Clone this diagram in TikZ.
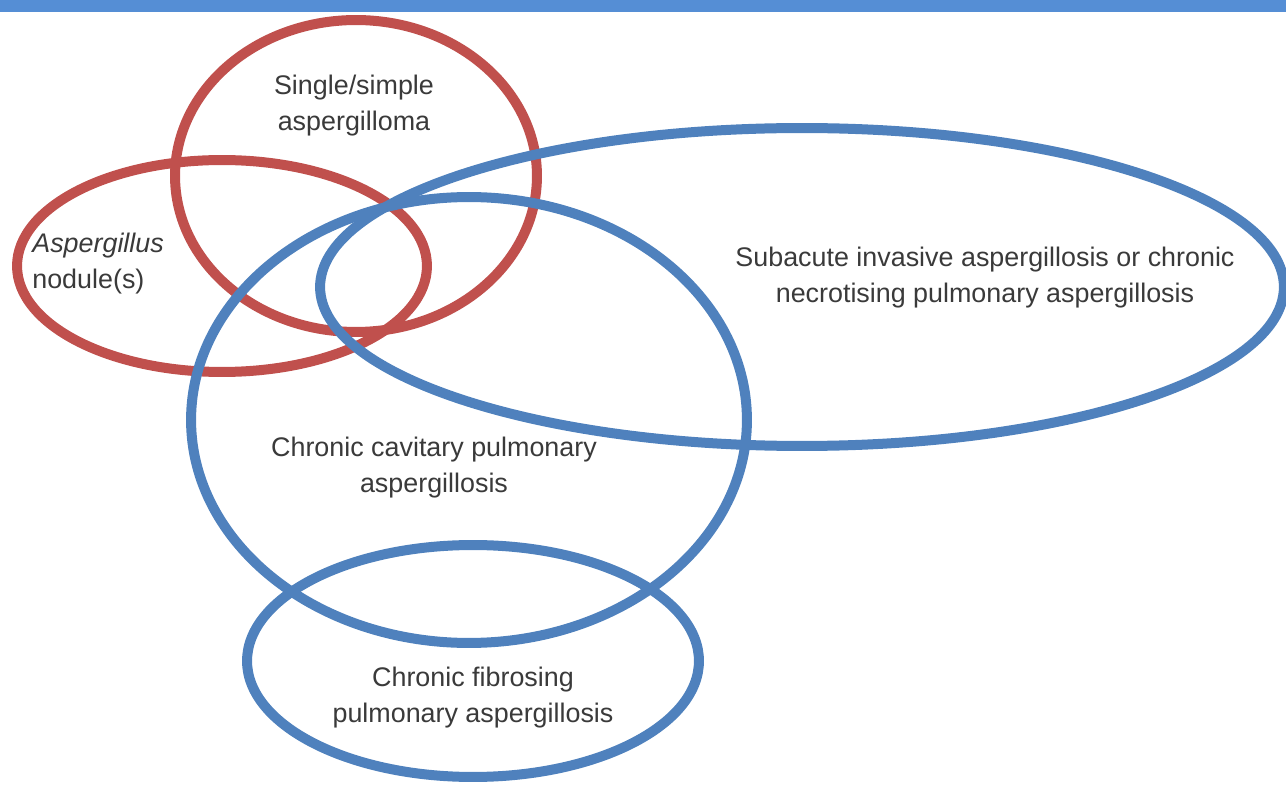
\documentclass[tikz,border=0pt]{standalone}
\usepackage{fontspec}
\setmainfont{Liberation Sans}
\usetikzlibrary{positioning}
\definecolor{venred}{HTML}{C0504D}
\definecolor{venblue}{HTML}{4F81BD}
\definecolor{barblue}{HTML}{558ED5}
\definecolor{inkgray}{HTML}{3A3A3A}

\begin{document}
\begin{tikzpicture}[x=0.02cm, y=-0.02cm,
    ring/.style={line width=0.2cm},
    redring/.style={ring, draw=venred},
    bluering/.style={ring, draw=venblue},
    lbl/.style={font=\fontsize{15.3}{20.5}\selectfont, text=inkgray,
                align=center, inner sep=0pt},
]
\useasboundingbox (0,0) rectangle (1286,787);
\clip (0,0) rectangle (1286,787);
\fill[barblue] (0,0) rectangle (1286,12);

% red rings
\draw[redring] (356,176) ellipse [x radius=3.62cm, y radius=3.12cm];
\draw[redring] (222,266) ellipse [x radius=4.10cm, y radius=2.12cm];

% blue rings
\draw[bluering] (802,287) ellipse [x radius=9.64cm, y radius=3.18cm];
\draw[bluering] (469,420) ellipse [x radius=5.56cm, y radius=4.46cm];
\draw[bluering] (473,661) ellipse [x radius=4.52cm, y radius=2.32cm];

% labels
\node[lbl] (aspergilloma) at (354,106) {Single/simple\\aspergilloma};
\node[lbl, anchor=west, align=left] (nodule) at (32,264) {\textit{Aspergillus}\\nodule(s)};
\node[lbl] (subacute) at (985,278) {Subacute invasive aspergillosis or chronic\\necrotising pulmonary aspergillosis};
\node[lbl] (cavitary) at (434,468) {Chronic cavitary pulmonary\\aspergillosis};
\node[lbl] (fibrosing) at (473,698) {Chronic fibrosing\\pulmonary aspergillosis};
\end{tikzpicture}
\end{document}
